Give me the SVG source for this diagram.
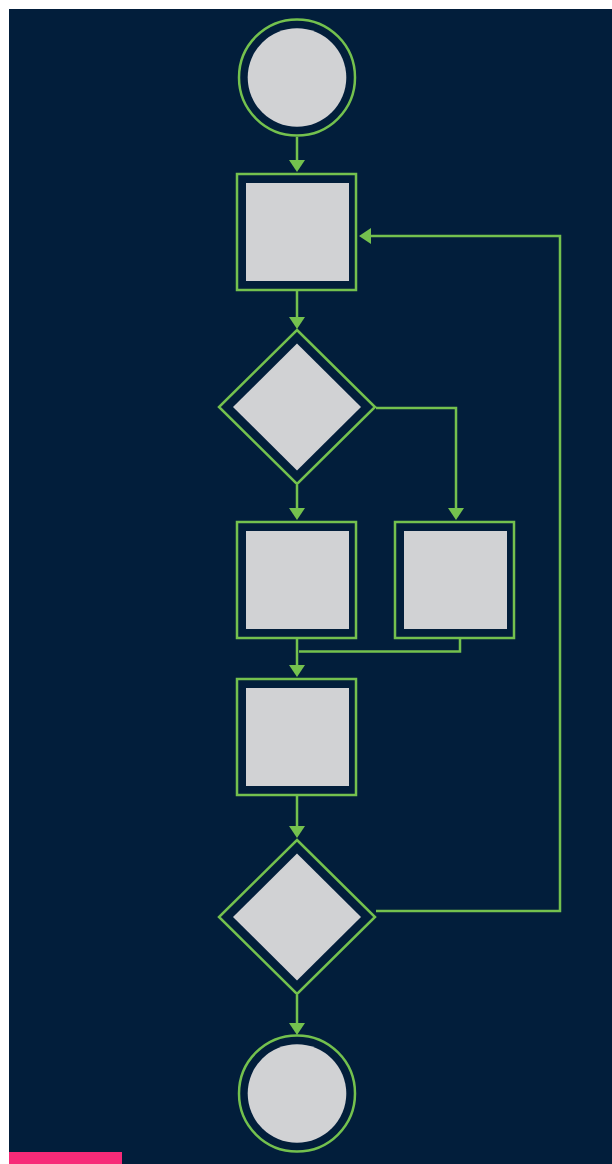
<svg xmlns="http://www.w3.org/2000/svg" width="612" height="1164" viewBox="0 0 612 1164">
<defs>
<style>
.ring{fill:none;stroke:#74C14E;stroke-width:2.5}
.fill{fill:#D1D2D4}
.conn{fill:none;stroke:#74C14E;stroke-width:2.5}
</style>
<marker id="ah" viewBox="0 0 12 16" refX="0" refY="8" markerWidth="12" markerHeight="16" markerUnits="userSpaceOnUse" orient="auto">
<path d="M0,0 L12,8 L0,16 Z" fill="#74C14E"/>
</marker>
</defs>
<rect x="0" y="0" width="612" height="1164" fill="#FFFFFF"/>
<rect x="9" y="9" width="603" height="1155" fill="#021E3B"/>
<rect x="9" y="1152" width="113" height="12" fill="#F72B78"/>
<g id="connectors">
<path class="conn" d="M297,137 V160" marker-end="url(#ah)"/>
<path class="conn" d="M297,291 V317" marker-end="url(#ah)"/>
<path class="conn" d="M376,408 H456 V508" marker-end="url(#ah)"/>
<path class="conn" d="M297,485 V508" marker-end="url(#ah)"/>
<path class="conn" d="M297,639 V665" marker-end="url(#ah)"/>
<path class="conn" d="M460,639 V651.5 H299"/>
<path class="conn" d="M297,796 V826" marker-end="url(#ah)"/>
<path class="conn" d="M376,911 H560 V236 H371" marker-end="url(#ah)"/>
<path class="conn" d="M297,995 V1023" marker-end="url(#ah)"/>
</g>
<g id="start">
<circle class="ring" cx="297" cy="77.5" r="58"/>
<circle class="fill" cx="297" cy="77.5" r="49.3"/>
</g>
<g id="process1">
<rect class="ring" x="237" y="174" width="119" height="116"/>
<rect class="fill" x="246" y="183" width="103" height="98"/>
</g>
<g id="decision1">
<polygon class="ring" points="297,330 375,407 297,484 219,407"/>
<polygon class="fill" points="297,343.5 361,407 297,470.5 233,407"/>
</g>
<g id="process2">
<rect class="ring" x="237" y="522" width="119" height="116"/>
<rect class="fill" x="246" y="531" width="103" height="98"/>
</g>
<g id="process3">
<rect class="ring" x="395" y="522" width="119" height="116"/>
<rect class="fill" x="404" y="531" width="103" height="98"/>
</g>
<g id="process4">
<rect class="ring" x="237" y="679" width="119" height="116"/>
<rect class="fill" x="246" y="688" width="103" height="98"/>
</g>
<g id="decision2">
<polygon class="ring" points="297,840 375,917 297,994 219,917"/>
<polygon class="fill" points="297,853.5 361,917 297,980.5 233,917"/>
</g>
<g id="end">
<circle class="ring" cx="297" cy="1093.5" r="58"/>
<circle class="fill" cx="297" cy="1093.5" r="49.3"/>
</g>
</svg>
